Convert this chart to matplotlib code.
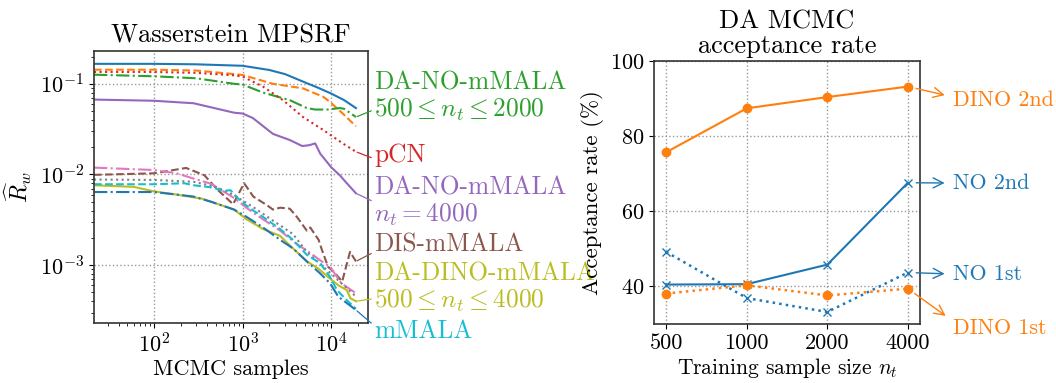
import matplotlib
matplotlib.use("Agg")
import matplotlib.pyplot as plt

plt.rcParams["font.family"] = "serif"
plt.rcParams["font.serif"] = ["cmr10", "DejaVu Serif"]
plt.rcParams["mathtext.fontset"] = "cm"
plt.rcParams["axes.formatter.use_mathtext"] = True
plt.rcParams["axes.unicode_minus"] = False

# ---- left panel: Wasserstein MPSRF curves ----
x_no500 = [21, 100, 300, 1000, 2000, 3000, 5000, 7000, 10000, 14000, 19000]
y_no500 = [0.166, 0.166, 0.164, 0.158, 0.142, 0.128, 0.104, 0.091, 0.078, 0.066, 0.054]
x_no1000 = [21, 100, 300, 800, 1000, 2200, 4800, 8100, 9700, 13500, 19000]
y_no1000 = [0.143, 0.143, 0.140, 0.128, 0.125, 0.100, 0.089, 0.072, 0.063, 0.047, 0.034]
x_no2000 = [21, 100, 300, 800, 1000, 1700, 3400, 5300, 6600, 9000, 12500, 14000, 19000]
y_no2000 = [0.126, 0.121, 0.115, 0.100, 0.098, 0.080, 0.066, 0.054, 0.052, 0.052, 0.054, 0.053, 0.043]
x_pcn = [21, 100, 300, 800, 1000, 1700, 2850, 4800, 8100, 13500, 19000]
y_pcn = [0.135, 0.135, 0.132, 0.124, 0.120, 0.093, 0.066, 0.043, 0.031, 0.022, 0.0178]
x_no4000 = [21, 100, 280, 800, 1000, 1300, 2200, 3400, 4700, 5600, 6600, 7500, 10000, 12500, 14500, 19000]
y_no4000 = [0.067, 0.065, 0.061, 0.048, 0.047, 0.042, 0.028, 0.024, 0.0206, 0.021, 0.022, 0.017,
            0.012, 0.0098, 0.0083, 0.0062]
x_dis = [21, 100, 230, 370, 520, 780, 1040, 1320, 1870, 2200, 2650, 3400, 4100, 5300, 5800, 7200,
         7800, 9200, 10600, 13300, 14400, 16300, 19000]
y_dis = [0.0099, 0.0103, 0.0118, 0.0098, 0.0068, 0.0047, 0.008, 0.0057, 0.0046, 0.0041, 0.0043,
         0.0042, 0.0034, 0.0024, 0.0026, 0.0019, 0.0015, 0.00096, 0.00085, 0.00066, 0.00089,
         0.0014, 0.0011]
x_dino500 = [21, 100, 180, 280, 440, 800, 1100, 1700, 2650, 4100, 5300, 7500, 9700, 13000, 19000]
y_dino500 = [0.0119, 0.0112, 0.0103, 0.009, 0.0079, 0.0055, 0.0043, 0.0032, 0.0024, 0.0017,
             0.00145, 0.00113, 0.00096, 0.00063, 0.00049]
x_dino1000 = [21, 100, 280, 500, 800, 1300, 2000, 3700, 5300, 10000, 19000]
y_dino1000 = [0.0088, 0.0087, 0.0083, 0.0073, 0.0059, 0.0044, 0.0033, 0.0022, 0.0014, 0.0008, 0.00045]
x_dino2000 = [21, 59, 100, 180, 350, 800, 1110, 1700, 2650, 3300, 5300, 7000, 9700, 12000, 15000,
              16500, 19000]
y_dino2000 = [0.0076, 0.0073, 0.0065, 0.006, 0.0054, 0.0041, 0.0032, 0.0025, 0.0021, 0.0017, 0.0011,
              0.00093, 0.00071, 0.0006, 0.00053, 0.00043, 0.0004]
x_dino4000 = [21, 100, 220, 280, 450, 600, 730, 860, 1050, 1320, 1700, 2650, 3700, 5300, 7500,
              9700, 11600, 15000, 19000]
y_dino4000 = [0.0078, 0.0078, 0.0080, 0.0076, 0.0072, 0.0066, 0.0067, 0.0056, 0.0047, 0.0040,
              0.0034, 0.0025, 0.0019, 0.0013, 0.00105, 0.00074, 0.00053, 0.00041, 0.00033]
x_mmala = [21, 100, 180, 280, 440, 800, 1110, 1700, 2650, 3700, 5300, 7500, 9700, 12000, 19000]
y_mmala = [0.0064, 0.0064, 0.006, 0.0057, 0.005, 0.0041, 0.0034, 0.0026, 0.0019, 0.00153, 0.0011,
           0.00081, 0.00063, 0.00045, 0.00032]

# ---- right panel: acceptance rates ----
train_sizes = ["500", "1000", "2000", "4000"]
dino_2nd = [75.7, 87.4, 90.4, 93.2]
no_2nd = [40.5, 40.6, 45.8, 67.6]
no_1st = [49.2, 36.9, 33.2, 43.7]
dino_1st = [38.1, 40.3, 37.6, 39.4]

W, H = 1056, 383
fig = plt.figure(figsize=(W / 100, H / 100), dpi=100)

ax1 = fig.add_axes([94 / W, (H - 323) / H, 274 / W, 272 / H])
curves = [
    (x_no500, y_no500, "tab:blue", "-"),
    (x_no1000, y_no1000, "tab:orange", "--"),
    (x_no2000, y_no2000, "tab:green", "-."),
    (x_pcn, y_pcn, "tab:red", ":"),
    (x_no4000, y_no4000, "tab:purple", "-"),
    (x_dis, y_dis, "tab:brown", "--"),
    (x_dino500, y_dino500, "tab:pink", "-."),
    (x_dino1000, y_dino1000, "tab:gray", ":"),
    (x_dino2000, y_dino2000, "tab:olive", "-"),
    (x_dino4000, y_dino4000, "tab:cyan", "--"),
    (x_mmala, y_mmala, "tab:blue", "-."),
]
for xs, ys, c, ls in curves:
    ax1.plot(xs, ys, color=c, ls=ls, lw=1.5)
ax1.set_xscale("log")
ax1.set_yscale("log")
ax1.set_xlim(21, 26000)
ax1.set_ylim(2.3e-4, 0.23)
ax1.grid(True, which="major", ls=":", color="0.6", lw=1)
ax1.set_title("Wasserstein MPSRF", fontsize=19, pad=6)
ax1.set_xlabel("MCMC samples", fontsize=16, labelpad=2)
ax1.set_ylabel(r"$\widehat{R}_w$", fontsize=17)
ax1.tick_params(labelsize=16)

labels_left = [
    ("DA-NO-mMALA\n$500 \\leq n_t \\leq 2000$", "tab:green", "tab:green", (19000, 0.043), 0.832, 0.25),
    ("pCN", "tab:red", "tab:red", (19000, 0.0178), 0.617, 0.35),
    ("DA-NO-mMALA\n$n_t = 4000$", "tab:purple", "tab:purple", (19000, 0.0062), 0.445, 0.5),
    ("DIS-mMALA", "tab:brown", "tab:brown", (19000, 0.0011), 0.287, 0.2),
    ("DA-DINO-mMALA\n$500 \\leq n_t \\leq 4000$", "tab:olive", "tab:olive", (19000, 0.0004), 0.128, 0.3),
    ("mMALA", "tab:cyan", "tab:blue", (19000, 0.00032), -0.031, 0.75),
]
for txt, tc, lc, xy, yf, ry in labels_left:
    ax1.annotate(txt, xy=xy, xycoords="data", xytext=(1.022, yf), textcoords="axes fraction",
                 color=tc, fontsize=18.3, ha="left", va="center", linespacing=1.1,
                 annotation_clip=False,
                 arrowprops=dict(arrowstyle="-", color=lc, lw=0.9, relpos=(0, ry),
                                 shrinkA=0, shrinkB=1))

ax2 = fig.add_axes([654 / W, (H - 324) / H, 266 / W, 263 / H])
pos = range(len(train_sizes))
ax2.plot(pos, dino_2nd, color="tab:orange", ls="-", marker="o", ms=6, lw=1.5)
ax2.plot(pos, no_2nd, color="tab:blue", ls="-", marker="x", ms=6, lw=1.5)
ax2.plot(pos, no_1st, color="tab:blue", ls=":", marker="x", ms=6, lw=1.8)
ax2.plot(pos, dino_1st, color="tab:orange", ls=":", marker="o", ms=6, lw=1.8)
ax2.set_xticks(list(pos))
ax2.set_xticklabels(train_sizes)
ax2.set_ylim(30, 100)
ax2.set_yticks([40, 60, 80, 100])
ax2.grid(True, ls=":", color="0.6", lw=1)
ax2.set_title("DA MCMC\nacceptance rate", fontsize=19, pad=6, linespacing=1.0)
ax2.set_xlabel("Training sample size $n_t$", fontsize=15.5, labelpad=2)
ax2.set_ylabel("Acceptance rate (%)", fontsize=16.5)
ax2.tick_params(labelsize=16)

labels_right = [
    ("DINO 2nd", "tab:orange", dino_2nd[-1], 0.852, 0.65),
    ("NO 2nd", "tab:blue", no_2nd[-1], 0.536, 0.5),
    ("NO 1st", "tab:blue", no_1st[-1], 0.19, 0.5),
    ("DINO 1st", "tab:orange", dino_1st[-1], -0.015, 0.85),
]
for txt, c, yv, yf, ry in labels_right:
    ax2.annotate(txt, xy=(3, yv), xycoords="data", xytext=(1.124, yf), textcoords="axes fraction",
                 color=c, fontsize=15.8, ha="left", va="center", annotation_clip=False,
                 arrowprops=dict(arrowstyle="<-", color=c, lw=1.0, relpos=(0, ry),
                                 shrinkA=4, shrinkB=6, mutation_scale=18))

for ax in (ax1, ax2):
    for s in ax.spines.values():
        s.set_color("0.2")
        s.set_linewidth(1.2)

fig.savefig("out.png", dpi=100)
